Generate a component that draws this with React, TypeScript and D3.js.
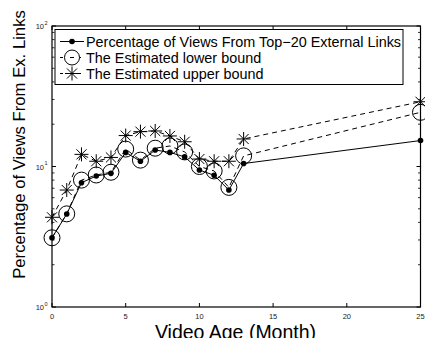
import React from "react";
import * as d3 from "d3";

const months = [0, 1, 2, 3, 4, 5, 6, 7, 8, 9, 10, 11, 12, 13, 25];
const topLinks = [3.11, 4.59, 7.67, 8.55, 8.94, 12.6, 10.9, 13.1, 12.6, 11.7, 9.44, 8.66, 6.8, 10.5, 15.3];
const lowerBound = [3.11, 4.6, 8.0, 8.7, 9.1, 13.3, 11.1, 13.5, 14.0, 12.7, 10.0, 9.3, 7.1, 11.9, 24.3];
const upperBound = [4.35, 6.8, 12.2, 10.9, 11.6, 16.6, 17.7, 17.9, 16.5, 15.0, 11.3, 10.9, 10.9, 15.7, 28.9];
const xTicks = [0, 5, 10, 15, 20, 25];
const yDecades = [0, 1, 2];
const legendLabels = [
  "Percentage of Views From Top\u221220 External Links",
  "The Estimated lower bound",
  "The Estimated upper bound",
];

const W = 425;
const H = 338;
const L = 52, R = 420.5, T = 26, B = 307;
const FONT = "'Liberation Sans', Arial, Helvetica, sans-serif";

function Asterisk({ x, y, r = 7 }: { x: number; y: number; r?: number }) {
  const d = r * 0.72;
  return (
    <path
      d={`M${x - r},${y}L${x + r},${y}M${x},${y - r}L${x},${y + r}M${x - d},${y - d}L${x + d},${y + d}M${x - d},${y + d}L${x + d},${y - d}`}
      stroke="#000"
      strokeWidth={1}
      fill="none"
    />
  );
}

export default function App() {
  const x = d3.scaleLinear().domain([0, 25]).range([L, R]);
  const y = d3.scaleLog().domain([1, 100]).range([B, T]);
  const line = (vals: number[]) =>
    d3.line<number>().x((_, i) => x(months[i])).y((v) => y(v))(vals) || "";

  const minor: number[] = [];
  [1, 10].forEach((d) => {
    for (let k = 2; k <= 9; k++) minor.push(d * k);
  });

  return (
    <svg
      width={W}
      height={H}
      style={{ position: "absolute", left: 0, top: 0, background: "#fff" }}
      fontFamily={FONT}
    >
      <rect x={0} y={0} width={W} height={H} fill="#fff" />
      {/* ticks */}
      {xTicks.map((t) => (
        <g key={"xt" + t}>
          <line x1={x(t)} x2={x(t)} y1={B} y2={B - 4} stroke="#000" />
          <line x1={x(t)} x2={x(t)} y1={T} y2={T + 4} stroke="#000" />
          <text x={x(t)} y={319} fontSize={7.5} textAnchor="middle" fill="#222">
            {t}
          </text>
        </g>
      ))}
      {yDecades.map((p) => (
        <g key={"yd" + p}>
          <line x1={L} x2={L + 4} y1={y(10 ** p)} y2={y(10 ** p)} stroke="#000" />
          <line x1={R} x2={R - 4} y1={y(10 ** p)} y2={y(10 ** p)} stroke="#000" />
          <text x={44} y={y(10 ** p) + 3} fontSize={7.5} textAnchor="end" fill="#222">
            10
          </text>
          <text x={44.5} y={y(10 ** p) - 1.5} fontSize={5.5} fill="#222">
            {p}
          </text>
        </g>
      ))}
      {minor.map((v) => (
        <g key={"mn" + v}>
          <line x1={L} x2={L + 2.5} y1={y(v)} y2={y(v)} stroke="#000" strokeWidth={0.8} />
          <line x1={R} x2={R - 2.5} y1={y(v)} y2={y(v)} stroke="#000" strokeWidth={0.8} />
        </g>
      ))}
      {/* data lines */}
      <path d={line(upperBound)} fill="none" stroke="#000" strokeWidth={1} strokeDasharray="5,4" />
      <path d={line(lowerBound)} fill="none" stroke="#000" strokeWidth={1} strokeDasharray="5,4" />
      <path d={line(topLinks)} fill="none" stroke="#000" strokeWidth={1} />
      {upperBound.map((v, i) => (
        <Asterisk key={"u" + i} x={x(months[i])} y={y(v)} />
      ))}
      {lowerBound.map((v, i) => (
        <circle key={"l" + i} cx={x(months[i])} cy={y(v)} r={8} fill="none" stroke="#000" strokeWidth={1} />
      ))}
      {topLinks.map((v, i) => (
        <circle key={"m" + i} cx={x(months[i])} cy={y(v)} r={2.8} fill="#000" />
      ))}
      {/* axes box */}
      <rect x={L} y={T} width={R - L} height={B - T} fill="none" stroke="#000" strokeWidth={1.2} />
      {/* legend */}
      <rect x={55} y={29.5} width={348} height={55} fill="#fff" stroke="#000" strokeWidth={1} />
      {legendLabels.map((lab, i) => {
        const cy = 41.5 + i * 16;
        return (
          <g key={"lg" + i}>
            <line
              x1={60}
              x2={84}
              y1={cy}
              y2={cy}
              stroke="#000"
              strokeDasharray={i === 0 ? undefined : "3,3"}
            />
            {i === 0 && <circle cx={72} cy={cy} r={2.8} fill="#000" />}
            {i === 1 && <circle cx={72} cy={cy} r={7.5} fill="#fff" stroke="#000" />}
            {i === 1 && <line x1={70} x2={74} y1={cy} y2={cy} stroke="#000" />}
            {i === 2 && <Asterisk x={72} y={cy} />}
            <text x={86} y={cy + 5} fontSize={14.4} fill="#000">
              {lab}
            </text>
          </g>
        );
      })}
      {/* axis labels */}
      <text x={235.5} y={339} fontSize={19.5} textAnchor="middle" fill="#000">
        Video Age (Month)
      </text>
      <text
        transform="translate(25,144.5) rotate(-90)"
        fontSize={16.7}
        textAnchor="middle"
        fill="#000"
      >
        Percentage of Views From Ex. Links
      </text>
    </svg>
  );
}
